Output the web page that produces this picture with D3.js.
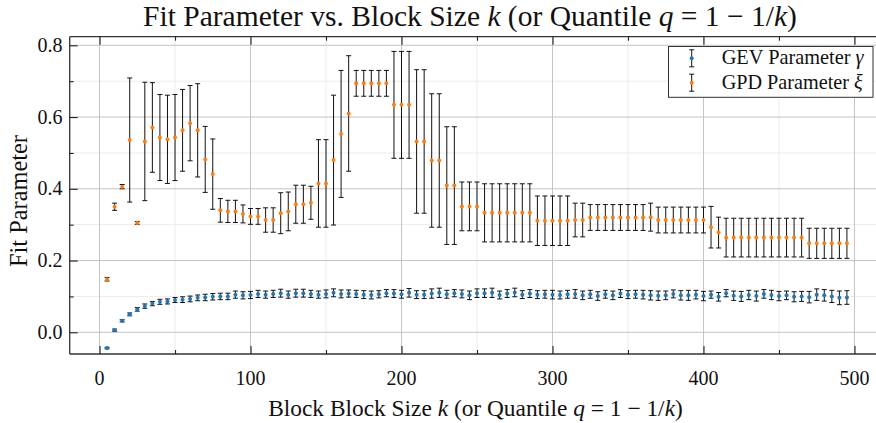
<!DOCTYPE html>
<html>
<head>
<meta charset="utf-8">
<script src="https://cdn.jsdelivr.net/npm/d3@7"></script>
<style>
  html, body { margin: 0; padding: 0; background: #fff; }
  svg { display: block; }
  text { font-family: "Liberation Serif", "DejaVu Serif", serif; fill: #111; }
</style>
</head>
<body>
<svg id="chart" width="876" height="423"></svg>
<script>
// Block sizes k
const blockSizes = [5, 10, 15, 20, 25, 30, 35, 40, 45, 50, 55, 60, 65, 70, 75, 80, 85, 90, 95, 100,
  105, 110, 115, 120, 125, 130, 135, 140, 145, 150, 155, 160, 165, 170, 175, 180, 185, 190, 195, 200,
  205, 210, 215, 220, 225, 230, 235, 240, 245, 250, 255, 260, 265, 270, 275, 280, 285, 290, 295, 300,
  305, 310, 315, 320, 325, 330, 335, 340, 345, 350, 355, 360, 365, 370, 375, 380, 385, 390, 395, 400,
  405, 410, 415, 420, 425, 430, 435, 440, 445, 450, 455, 460, 465, 470, 475, 480, 485, 490, 495];

// GEV shape parameter gamma and its standard error
const gevGamma = [-0.044, 0.006, 0.032, 0.050, 0.064, 0.073, 0.080, 0.085, 0.086, 0.090,
  0.091, 0.093, 0.096, 0.097, 0.099, 0.100, 0.100, 0.105, 0.103, 0.104,
  0.107, 0.105, 0.107, 0.109, 0.105, 0.109, 0.109, 0.107, 0.105, 0.107,
  0.110, 0.107, 0.108, 0.107, 0.105, 0.104, 0.106, 0.109, 0.108, 0.106,
  0.110, 0.105, 0.105, 0.108, 0.110, 0.106, 0.109, 0.107, 0.103, 0.109,
  0.109, 0.110, 0.104, 0.108, 0.111, 0.105, 0.108, 0.105, 0.106, 0.105,
  0.104, 0.106, 0.107, 0.103, 0.106, 0.101, 0.106, 0.103, 0.108, 0.105,
  0.106, 0.105, 0.103, 0.102, 0.103, 0.107, 0.103, 0.103, 0.105, 0.101,
  0.105, 0.099, 0.109, 0.102, 0.100, 0.104, 0.101, 0.107, 0.104, 0.101,
  0.103, 0.099, 0.100, 0.098, 0.105, 0.103, 0.100, 0.096, 0.097];
const gevErr = [0.002, 0.003, 0.003, 0.004, 0.005, 0.006, 0.006, 0.007, 0.007, 0.007,
  0.008, 0.008, 0.008, 0.009, 0.009, 0.009, 0.009, 0.010, 0.010, 0.010,
  0.010, 0.010, 0.010, 0.011, 0.010, 0.011, 0.011, 0.010, 0.010, 0.011,
  0.011, 0.011, 0.010, 0.010, 0.011, 0.011, 0.010, 0.010, 0.011, 0.011,
  0.012, 0.011, 0.011, 0.013, 0.013, 0.011, 0.010, 0.011, 0.012, 0.012,
  0.012, 0.013, 0.011, 0.011, 0.012, 0.011, 0.011, 0.011, 0.011, 0.012,
  0.011, 0.011, 0.012, 0.012, 0.011, 0.012, 0.011, 0.012, 0.011, 0.011,
  0.011, 0.012, 0.013, 0.013, 0.012, 0.011, 0.013, 0.014, 0.012, 0.013,
  0.010, 0.012, 0.010, 0.013, 0.014, 0.013, 0.014, 0.012, 0.013, 0.013,
  0.012, 0.014, 0.014, 0.016, 0.016, 0.016, 0.017, 0.019, 0.019];

// GPD shape parameter xi and its standard error
const gpdXi = [0.148, 0.350, 0.406, 0.536, 0.305, 0.532, 0.571, 0.543, 0.538, 0.543,
  0.563, 0.583, 0.563, 0.482, 0.441, 0.340, 0.337, 0.337, 0.330, 0.323,
  0.323, 0.313, 0.313, 0.332, 0.337, 0.357, 0.357, 0.361, 0.415, 0.415,
  0.480, 0.553, 0.610, 0.694, 0.694, 0.694, 0.694, 0.694, 0.634, 0.634,
  0.634, 0.532, 0.532, 0.479, 0.479, 0.409, 0.409, 0.351, 0.351, 0.351,
  0.333, 0.333, 0.333, 0.333, 0.333, 0.333, 0.333, 0.311, 0.311, 0.311,
  0.311, 0.311, 0.313, 0.313, 0.320, 0.320, 0.320, 0.320, 0.320, 0.320,
  0.320, 0.320, 0.321, 0.313, 0.313, 0.313, 0.313, 0.313, 0.313, 0.313,
  0.293, 0.278, 0.264, 0.264, 0.264, 0.264, 0.264, 0.264, 0.264, 0.264,
  0.264, 0.264, 0.264, 0.248, 0.248, 0.248, 0.248, 0.248, 0.248];
const gpdErr = [0.005, 0.010, 0.006, 0.173, 0.004, 0.165, 0.125, 0.120, 0.123, 0.120,
  0.114, 0.105, 0.130, 0.092, 0.098, 0.033, 0.031, 0.031, 0.025, 0.022,
  0.022, 0.034, 0.034, 0.057, 0.054, 0.053, 0.053, 0.046, 0.122, 0.122,
  0.181, 0.177, 0.161, 0.036, 0.036, 0.036, 0.036, 0.036, 0.149, 0.149,
  0.149, 0.200, 0.200, 0.186, 0.186, 0.164, 0.164, 0.068, 0.068, 0.068,
  0.081, 0.081, 0.081, 0.081, 0.081, 0.081, 0.081, 0.069, 0.069, 0.069,
  0.069, 0.069, 0.047, 0.047, 0.036, 0.036, 0.036, 0.036, 0.036, 0.036,
  0.036, 0.036, 0.039, 0.036, 0.036, 0.036, 0.036, 0.036, 0.036, 0.036,
  0.058, 0.043, 0.054, 0.054, 0.054, 0.054, 0.054, 0.054, 0.054, 0.054,
  0.054, 0.054, 0.054, 0.042, 0.042, 0.042, 0.042, 0.042, 0.042];

const xTicks = [0, 100, 200, 300, 400, 500];
const xMinorTicks = [50, 150, 250, 350, 450];
const yTicks = [0.0, 0.2, 0.4, 0.6, 0.8];
const yMinorTicks = [-0.1, 0.1, 0.3, 0.5, 0.7];

const seriesNames = ["GEV Parameter ", "GPD Parameter "];
const seriesSymbols = ["γ", "ξ"];
const seriesColors = ["#1f77b4", "#ff7f0e"];

const svg = d3.select("#chart");
const W = 876, H = 423;
const plot = { left: 69.7, top: 36.7, right: 884.3, bottom: 354 };

const x = d3.scaleLinear().domain([-19.75, 519.75]).range([plot.left, plot.right]);
const y = d3.scaleLinear().domain([-0.0605, 0.824]).range([plot.bottom, plot.top]);

svg.append("rect").attr("width", W).attr("height", H).attr("fill", "#fff");

// Grid: minor first, then major
const grid = svg.append("g");
grid.selectAll(".gxm").data(xMinorTicks).join("line")
  .attr("x1", d => x(d)).attr("x2", d => x(d))
  .attr("y1", plot.top).attr("y2", plot.bottom)
  .attr("stroke", "#ececec").attr("stroke-width", 1);
grid.selectAll(".gym").data(yMinorTicks.filter(v => y(v) < plot.bottom)).join("line")
  .attr("x1", plot.left).attr("x2", plot.right)
  .attr("y1", d => y(d)).attr("y2", d => y(d))
  .attr("stroke", "#ececec").attr("stroke-width", 1);
grid.selectAll(".gx").data(xTicks).join("line")
  .attr("x1", d => x(d)).attr("x2", d => x(d))
  .attr("y1", plot.top).attr("y2", plot.bottom)
  .attr("stroke", "#c4c4c4").attr("stroke-width", 1);
grid.selectAll(".gy").data(yTicks).join("line")
  .attr("x1", plot.left).attr("x2", plot.right)
  .attr("y1", d => y(d)).attr("y2", d => y(d))
  .attr("stroke", "#c4c4c4").attr("stroke-width", 1);

// Error bars + markers
function drawSeries(vals, errs, color) {
  const g = svg.append("g");
  const data = blockSizes.map((k, i) => ({ k, v: vals[i], e: errs[i] }));
  const cap = 2.5;
  g.selectAll(".eb").data(data).join("line")
    .attr("x1", d => x(d.k)).attr("x2", d => x(d.k))
    .attr("y1", d => y(d.v - d.e)).attr("y2", d => y(d.v + d.e))
    .attr("stroke", "#111").attr("stroke-width", 1);
  g.selectAll(".ct").data(data).join("line")
    .attr("x1", d => x(d.k) - cap).attr("x2", d => x(d.k) + cap)
    .attr("y1", d => y(d.v + d.e)).attr("y2", d => y(d.v + d.e))
    .attr("stroke", "#111").attr("stroke-width", 1);
  g.selectAll(".cb").data(data).join("line")
    .attr("x1", d => x(d.k) - cap).attr("x2", d => x(d.k) + cap)
    .attr("y1", d => y(d.v - d.e)).attr("y2", d => y(d.v - d.e))
    .attr("stroke", "#111").attr("stroke-width", 1);
  g.selectAll("circle").data(data).join("circle")
    .attr("cx", d => x(d.k)).attr("cy", d => y(d.v)).attr("r", 2)
    .attr("fill", color);
}
drawSeries(gevGamma, gevErr, seriesColors[0]);
drawSeries(gpdXi, gpdErr, seriesColors[1]);

// Frame
const frame = svg.append("g").attr("stroke", "#333").attr("stroke-width", 1.3);
frame.append("line").attr("x1", plot.left).attr("x2", plot.left).attr("y1", plot.top).attr("y2", plot.bottom);
frame.append("line").attr("x1", plot.left).attr("x2", plot.right).attr("y1", plot.bottom).attr("y2", plot.bottom);
frame.append("line").attr("x1", plot.left).attr("x2", plot.right).attr("y1", plot.top).attr("y2", plot.top);
frame.append("line").attr("x1", plot.right).attr("x2", plot.right).attr("y1", plot.top).attr("y2", plot.bottom);

// Inward ticks via d3 axes
const axB = svg.append("g").attr("transform", `translate(0,${plot.bottom})`)
  .call(d3.axisBottom(x).tickValues(xTicks).tickSize(-8).tickFormat(""));
const axBm = svg.append("g").attr("transform", `translate(0,${plot.bottom})`)
  .call(d3.axisBottom(x).tickValues(xMinorTicks).tickSize(-4).tickFormat(""));
const axT = svg.append("g").attr("transform", `translate(0,${plot.top})`)
  .call(d3.axisTop(x).tickValues(xTicks).tickSize(-8).tickFormat(""));
const axTm = svg.append("g").attr("transform", `translate(0,${plot.top})`)
  .call(d3.axisTop(x).tickValues(xMinorTicks).tickSize(-4).tickFormat(""));
const axL = svg.append("g").attr("transform", `translate(${plot.left},0)`)
  .call(d3.axisLeft(y).tickValues(yTicks).tickSize(-8).tickFormat(""));
const axLm = svg.append("g").attr("transform", `translate(${plot.left},0)`)
  .call(d3.axisLeft(y).tickValues(yMinorTicks.filter(v => y(v) < plot.bottom)).tickSize(-4).tickFormat(""));
[axB, axBm, axT, axTm, axL, axLm].forEach(a => {
  a.select(".domain").remove();
  a.selectAll(".tick line").attr("stroke", "#222").attr("stroke-width", 1.1);
});

// Tick labels
svg.append("g").selectAll("text").data(xTicks).join("text")
  .attr("x", d => x(d)).attr("y", 385).attr("text-anchor", "middle")
  .style("font-size", "20px").text(d => d3.format("d")(d));
svg.append("g").selectAll("text").data(yTicks).join("text")
  .attr("x", 62.5).attr("y", d => y(d) + 6.5).attr("text-anchor", "end")
  .style("font-size", "20px").text(d => d3.format(".1f")(d));

// Rich text helper: parts are [string, italic?]
function richText(parent, parts, attrs) {
  const t = parent.append("text");
  Object.entries(attrs).forEach(([k, v]) => t.attr(k, v));
  parts.forEach(([s, it]) => {
    t.append("tspan").text(s).style("font-style", it ? "italic" : "normal");
  });
  return t;
}
function fitWidth(t, target, base) {
  t.style("font-size", base + "px");
  const w = t.node().getComputedTextLength();
  t.style("font-size", (base * target / w) + "px");
}

const title = richText(svg, [["Fit Parameter vs. Block Size ", false], ["k", true], [" (or Quantile ", false],
  ["q", true], [" = 1 − 1/", false], ["k", true], [")", false]],
  { x: 470, y: 25.5, "text-anchor": "middle" });
fitWidth(title, 654, 22);

const xLabel = richText(svg, [["Block Block Size ", false], ["k", true], [" (or Quantile ", false],
  ["q", true], [" = 1 − 1/", false], ["k", true], [")", false]],
  { x: 475.5, y: 416, "text-anchor": "middle" });
fitWidth(xLabel, 415, 18);

const yLabel = richText(svg, [["Fit Parameter", false]],
  { transform: `translate(26.5,201) rotate(-90)`, "text-anchor": "middle" });
fitWidth(yLabel, 132, 18);

// Legend
const lg = svg.append("g");
lg.append("rect").attr("x", 668.5).attr("y", 46.5).attr("width", 204.5).attr("height", 50.8)
  .attr("fill", "#fff").attr("stroke", "#333").attr("stroke-width", 1);
const rowsY = [58.3, 82.7];
seriesNames.forEach((name, i) => {
  const cy = rowsY[i], cx = 691.7;
  lg.append("line").attr("x1", cx).attr("x2", cx).attr("y1", cy - 8.5).attr("y2", cy + 8.5)
    .attr("stroke", "#111").attr("stroke-width", 1);
  [cy - 8.5, cy + 8.5].forEach(yy => lg.append("line")
    .attr("x1", cx - 2.5).attr("x2", cx + 2.5).attr("y1", yy).attr("y2", yy)
    .attr("stroke", "#111").attr("stroke-width", 1));
  lg.append("circle").attr("cx", cx).attr("cy", cy).attr("r", 2).attr("fill", seriesColors[i]);
  const t = richText(lg, [[name, false], [seriesSymbols[i], true]], { x: 721.7, y: cy + 6 });
  fitWidth(t, i === 0 ? 142 : 141, 16);
});
</script>
</body>
</html>
